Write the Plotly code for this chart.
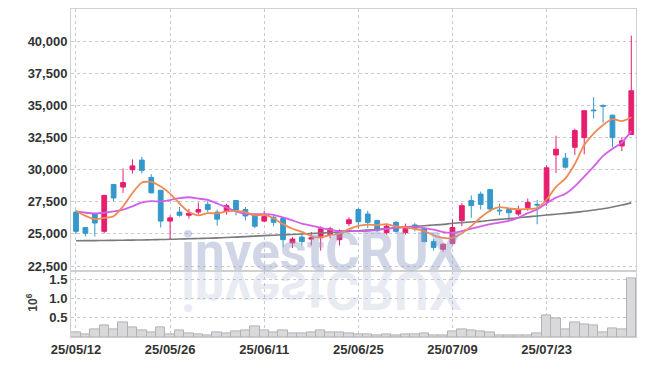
import plotly.graph_objects as go

dates = ["25/05/12","25/05/13","25/05/14","25/05/15","25/05/16","25/05/19","25/05/20","25/05/21","25/05/22","25/05/23",
         "25/05/26","25/05/27","25/05/28","25/05/29","25/05/30","25/06/02","25/06/04","25/06/05","25/06/09","25/06/10",
         "25/06/11","25/06/12","25/06/13","25/06/16","25/06/17","25/06/18","25/06/19","25/06/20","25/06/23","25/06/24",
         "25/06/25","25/06/26","25/06/27","25/06/30","25/07/01","25/07/02","25/07/03","25/07/04","25/07/07","25/07/08",
         "25/07/09","25/07/10","25/07/11","25/07/14","25/07/15","25/07/16","25/07/17","25/07/18","25/07/21","25/07/22",
         "25/07/23","25/07/24","25/07/25","25/07/28","25/07/29","25/07/30","25/07/31","25/08/01","25/08/04","25/08/05"]

open_ = [26700,25500,26550,25200,28850,28650,30000,30750,29400,28400,
         26000,26700,26450,26700,27300,26700,26750,27600,26900,26500,
         26000,26300,26200,24300,24750,24600,24700,24950,24550,25800,
         26900,26550,26050,25100,25900,25100,25700,25400,24400,23800,
         24250,26050,27600,28100,28450,26850,26900,26550,27050,27300,
         27500,31150,30900,31750,32500,34650,35000,34250,31850,32750]
high = [26850,25500,26600,28050,28900,30100,30800,31000,29650,28400,
        26450,27100,26950,27450,27550,26900,27350,27600,27100,26500,
        26800,26450,26250,24750,25000,25150,25600,25550,25350,26300,
        27000,26800,26100,25800,26000,25800,25850,25500,24600,24250,
        26150,27400,28000,28300,28500,27350,26900,27200,27750,27650,
        30350,32650,31300,33200,34600,35650,35100,34300,32550,40450]
low = [25000,24800,24800,25050,27550,28200,29700,29700,28150,25500,
       24600,26350,26200,26500,26700,25650,26500,26450,26050,25450,
       25900,25600,23950,23900,24100,24100,23700,24650,24100,25600,
       25400,25450,25150,24950,25100,24950,25200,24350,23700,23600,
       24200,25600,26250,26900,26700,26450,26100,26400,26800,25750,
       27200,29750,30100,31150,31200,34000,33650,31750,31450,32700]
close = [25200,25050,25850,28000,27800,29000,30300,29950,28200,26000,
         26250,26450,26600,26900,26900,26150,27200,26850,26400,25600,
         26350,25900,24550,24600,24400,24700,25400,25400,25250,26100,
         25950,25900,25250,25600,25200,25500,25400,24400,23950,24200,
         25500,27200,27200,27300,26950,26800,26650,26900,27450,27250,
         30150,31600,30200,33050,34600,34600,34950,32500,32250,36150]

ma5 = [26800,26400,26150,26250,26380,27140,28190,29010,29050,28690,
       28140,27370,26700,26440,26620,26600,26750,26800,26700,26440,
       26480,26220,25760,25400,25160,24830,24730,24900,25030,25370,
       25620,25720,25690,25760,25580,25490,25390,25220,24890,24690,
       24690,25050,25610,26280,26830,27090,26980,26920,26950,27010,
       27680,28670,29330,30450,31920,32810,33480,33940,33780,34090]
ma10 = [26750,26650,26600,26650,26750,26900,27150,27450,27550,27535,
        27640,27780,27855,27745,27655,27370,27060,26750,26570,26530,
        26540,26485,26280,26050,25800,25655,25475,25330,25215,25265,
        25225,25225,25295,25395,25475,25555,25555,25455,25325,25135,
        25090,25220,25415,25585,25760,25890,26015,26265,26615,26920,
        27385,27825,28125,28700,29465,30245,31075,31635,32115,33005]
ma60 = [24470,24475,24480,24490,24500,24510,24520,24530,24545,24560,
        24580,24600,24620,24640,24660,24690,24720,24750,24790,24830,
        24870,24900,24930,24960,24990,25030,25070,25110,25150,25200,
        25250,25300,25350,25410,25470,25530,25590,25640,25690,25740,
        25830,25880,25930,25980,26060,26130,26190,26260,26330,26400,
        26470,26530,26600,26680,26760,26860,26960,27100,27250,27420]

volume = [130000,80000,210000,290000,210000,390000,260000,160000,130000,260000,
          80000,160000,85000,55000,50000,125000,85000,145000,160000,265000,
          180000,120000,175000,85000,85000,130000,180000,130000,125000,105000,
          80000,70000,50000,80000,50000,60000,80000,85000,35000,35000,
          145000,210000,180000,155000,130000,45000,50000,50000,45000,105000,
          550000,490000,210000,390000,320000,290000,130000,235000,190000,1530000]

x_ticks = ["25/05/12", "25/05/26", "25/06/11", "25/06/25", "25/07/09", "25/07/23"]
price_ticks = [22500, 25000, 27500, 30000, 32500, 35000, 37500, 40000]
vol_ticks = [500000, 1000000, 1500000]
vol_tick_text = ["0.5", "1.0", "1.5"]

RED = "#e61e6e"
BLUE = "#3399cc"
GRID = "#c9c9d6"
LINE = "#d0d0d0"
TICKFONT = dict(family="Liberation Sans, Arial, sans-serif", size=13, color="#333333", weight=700)

fig = go.Figure()

fig.add_trace(go.Scatter(x=dates, y=ma60, mode="lines", line=dict(color="#7a7a7a", width=1.6, shape="spline", smoothing=0.6),
                         xaxis="x", yaxis="y", hoverinfo="skip", showlegend=False))
fig.add_trace(go.Scatter(x=dates, y=ma10, mode="lines", line=dict(color="#d35ee8", width=1.8, shape="spline", smoothing=0.6),
                         xaxis="x", yaxis="y", hoverinfo="skip", showlegend=False))
fig.add_trace(go.Scatter(x=dates, y=ma5, mode="lines", line=dict(color="#ef8a52", width=1.8, shape="spline", smoothing=0.6),
                         xaxis="x", yaxis="y", hoverinfo="skip", showlegend=False))

fig.add_trace(go.Candlestick(
    x=dates, open=open_, high=high, low=low, close=close,
    increasing=dict(line=dict(color=RED, width=1), fillcolor=RED),
    decreasing=dict(line=dict(color=BLUE, width=1), fillcolor=BLUE),
    xaxis="x", yaxis="y", showlegend=False))

fig.add_trace(go.Bar(x=dates, y=volume, marker=dict(color="#d9d9dc", line=dict(color="#b2b2b6", width=1)),
                     xaxis="x2", yaxis="y2", showlegend=False))

axis_common = dict(showgrid=True, gridcolor=GRID, griddash="dot", gridwidth=1, ticks="",
                   showline=True, linecolor=LINE, mirror=True, zeroline=False, automargin=False,
                   tickfont=TICKFONT)

fig.update_layout(
    width=645, height=366,
    margin=dict(l=71, r=9, t=9, b=29, autoexpand=False),
    paper_bgcolor="white", plot_bgcolor="white",
    showlegend=False,
    bargap=0,
    boxgap=0.28,
    font=TICKFONT,
    xaxis=dict(type="category", domain=[0, 1], range=[-0.53, 59.5], anchor="y",
               tickmode="array", tickvals=x_ticks, showticklabels=False,
               rangeslider=dict(visible=False), **axis_common),
    yaxis=dict(domain=[0.2, 1], range=[22080, 42520], anchor="x",
               tickmode="array", tickvals=price_ticks, tickformat=",d", **axis_common),
    xaxis2=dict(type="category", domain=[0, 1], range=[-0.53, 59.5], anchor="y2", matches="x",
                tickmode="array", tickvals=x_ticks, ticktext=x_ticks, **axis_common),
    yaxis2=dict(domain=[0, 0.2], range=[0, 1700000], anchor="x2",
                tickmode="array", tickvals=vol_ticks, ticktext=vol_tick_text, **axis_common),
    annotations=[
        dict(text="investCRUX", xref="paper", yref="paper", x=0.4436, y=0.258, xanchor="center", yanchor="middle",
             showarrow=False, font=dict(family="Roboto, Liberation Sans, sans-serif", size=53, weight=700,
                                        color="rgba(150,165,200,0.45)")),
        dict(text="investCRUX", xref="paper", yref="paper", x=0.4436, y=0.143, xanchor="center", yanchor="middle",
             showarrow=False, font=dict(family="Roboto, Liberation Sans, sans-serif", size=53, weight=700,
                                        color="rgba(150,165,200,0.22)")),
        dict(text="10<sup>6</sup>", xref="paper", yref="paper", x=-0.069, y=0.1046, xanchor="center", yanchor="middle",
             textangle=-90, showarrow=False, font=dict(family="Liberation Sans, sans-serif", size=12, color="#444")),
    ],
)

post = """
document.documentElement.style.margin = '0';
document.body.style.margin = '0';
document.body.style.padding = '0';
var gd = document.getElementById('{plot_id}');
var ts = gd.querySelectorAll('.annotation-text');
var n = 0;
for (var i = 0; i < ts.length; i++) {
  if (ts[i].textContent === 'investCRUX') {
    n += 1;
    if (n === 2) {
      ts[i].style.transformBox = 'fill-box';
      ts[i].style.transformOrigin = 'center';
      ts[i].style.transform = 'scaleY(-1)';
    }
  }
}
"""

fig.write_html("out.html", post_script=post, config={"displayModeBar": False})
